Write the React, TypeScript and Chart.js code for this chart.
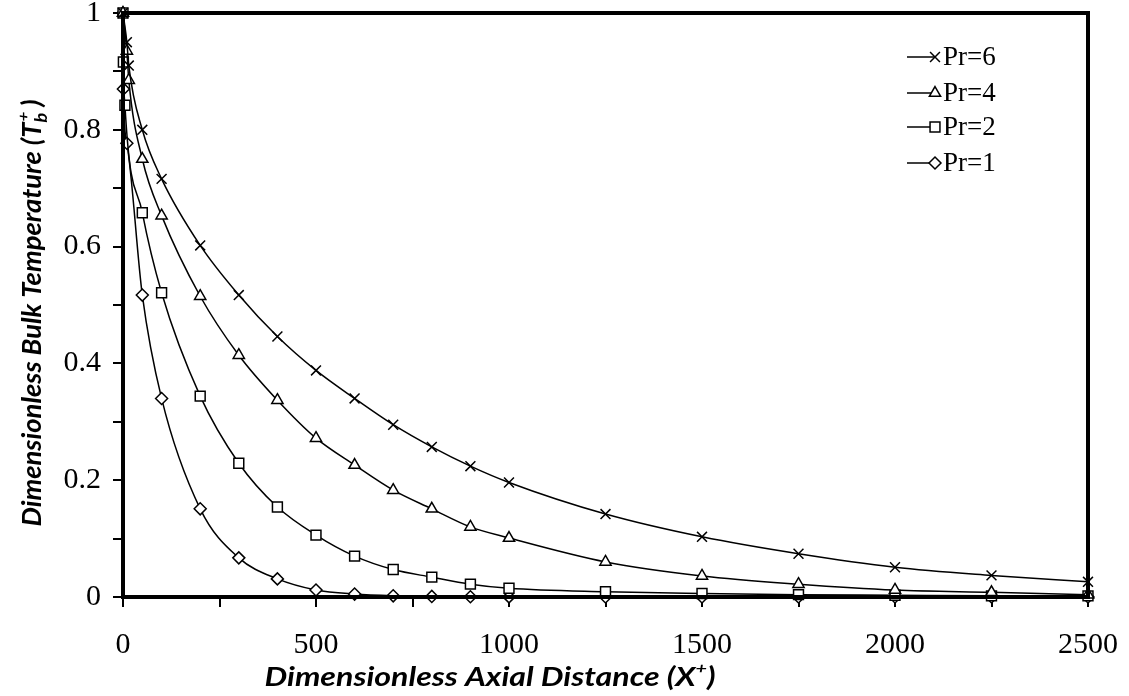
import React, { useEffect, useRef } from 'react';
import { Chart, registerables } from 'chart.js';

Chart.register(...registerables);

// ---- Data ----
const seriesLabels = ['Pr=6', 'Pr=4', 'Pr=2', 'Pr=1'];

const xPr6 = [0, 10, 15, 50, 100, 200, 300, 400, 500, 600, 700, 800, 900, 1000, 1250, 1500, 1750, 2000, 2250, 2500];
const yPr6 = [1, 0.95, 0.91, 0.8, 0.716, 0.602, 0.517, 0.446, 0.388, 0.34, 0.295, 0.257, 0.224, 0.196, 0.142, 0.103, 0.074, 0.051, 0.037, 0.026];

const xPr4 = [0, 10, 15, 50, 100, 200, 300, 400, 500, 600, 700, 800, 900, 1000, 1250, 1500, 1750, 2000, 2250, 2500];
const yPr4 = [1, 0.935, 0.885, 0.75, 0.653, 0.515, 0.414, 0.337, 0.272, 0.226, 0.183, 0.151, 0.12, 0.101, 0.06, 0.036, 0.022, 0.012, 0.008, 0.004];

const xPr2 = [0, 1, 5, 50, 100, 200, 300, 400, 500, 600, 700, 800, 900, 1000, 1250, 1500, 1750, 2000, 2250, 2500];
const yPr2 = [1, 0.916, 0.842, 0.658, 0.521, 0.344, 0.229, 0.154, 0.106, 0.07, 0.047, 0.034, 0.022, 0.015, 0.009, 0.006, 0.004, 0.003, 0.002, 0.002];

const xPr1 = [0, 1, 10, 50, 100, 200, 300, 400, 500, 600, 700, 800, 900, 1000, 1250, 1500, 1750, 2000, 2250, 2500];
const yPr1 = [1, 0.87, 0.777, 0.517, 0.34, 0.151, 0.067, 0.031, 0.012, 0.005, 0.002, 0.001, 0.0005, 0.0002, 0, 0, 0, 0, 0, 0];

const xLabeledTicks = [0, 500, 1000, 1500, 2000, 2500];
const yLabeledTicks = [0, 0.2, 0.4, 0.6, 0.8, 1];

const pointStyles = ['crossRot', 'triangle', 'rect', 'rectRot'];
const pointRadii = [7, 6.5, 7, 6];

const TICK_FONT = { family: 'Liberation Serif', size: 30 };
const TITLE_FAMILY = 'Lato';

type Part = { t: string; size: number; dy: number; stack?: boolean };

function partsWidth(ctx: CanvasRenderingContext2D, parts: Part[]) {
  let w = 0;
  for (let i = 0; i < parts.length; i++) {
    const p = parts[i];
    ctx.font = `italic bold ${p.size}px ${TITLE_FAMILY}`;
    const pw = ctx.measureText(p.t).width;
    if (p.stack && i + 1 < parts.length) {
      const q = parts[i + 1];
      ctx.font = `italic bold ${q.size}px ${TITLE_FAMILY}`;
      const qw = ctx.measureText(q.t).width;
      w += Math.max(pw, qw);
      i++;
    } else {
      w += pw;
    }
  }
  return w;
}

function drawRich(
  ctx: CanvasRenderingContext2D,
  parts: Part[],
  cx: number,
  baseY: number,
  targetWidth: number,
  rotate: boolean
) {
  ctx.save();
  const total = partsWidth(ctx, parts);
  ctx.translate(cx, baseY);
  if (rotate) ctx.rotate(-Math.PI / 2);
  ctx.scale(targetWidth / total, 1);
  ctx.fillStyle = '#000';
  ctx.textBaseline = 'alphabetic';
  ctx.textAlign = 'left';
  let x = -total / 2;
  for (let i = 0; i < parts.length; i++) {
    const p = parts[i];
    ctx.font = `italic bold ${p.size}px ${TITLE_FAMILY}`;
    ctx.fillText(p.t, x, p.dy);
    const pw = ctx.measureText(p.t).width;
    if (p.stack && i + 1 < parts.length) {
      const q = parts[i + 1];
      ctx.font = `italic bold ${q.size}px ${TITLE_FAMILY}`;
      ctx.fillText(q.t, x + 1, q.dy);
      const qw = ctx.measureText(q.t).width;
      x += Math.max(pw, qw);
      i++;
    } else {
      x += pw;
    }
  }
  ctx.restore();
}

function drawMarker(ctx: CanvasRenderingContext2D, style: string, x: number, y: number, r: number) {
  ctx.beginPath();
  if (style === 'crossRot') {
    const o = Math.SQRT1_2 * r;
    ctx.moveTo(x - o, y - o);
    ctx.lineTo(x + o, y + o);
    ctx.moveTo(x - o, y + o);
    ctx.lineTo(x + o, y - o);
    ctx.stroke();
    return;
  }
  if (style === 'triangle') {
    const h = r * 1.5;
    const half = (Math.sqrt(3) / 2) * r;
    ctx.moveTo(x, y - r);
    ctx.lineTo(x + half, y - r + h);
    ctx.lineTo(x - half, y - r + h);
    ctx.closePath();
  } else if (style === 'rect') {
    const s = Math.SQRT1_2 * r;
    ctx.rect(x - s, y - s, 2 * s, 2 * s);
  } else {
    ctx.moveTo(x - r, y);
    ctx.lineTo(x, y - r);
    ctx.lineTo(x + r, y);
    ctx.lineTo(x, y + r);
    ctx.closePath();
  }
  ctx.fillStyle = '#fff';
  ctx.fill();
  ctx.stroke();
}

const decorPlugin = {
  id: 'decor',
  afterDraw(chart: any) {
    const ctx: CanvasRenderingContext2D = chart.ctx;
    const a = chart.chartArea;
    ctx.save();
    // frame
    ctx.strokeStyle = '#000';
    ctx.lineWidth = 4;
    ctx.strokeRect(a.left, a.top, a.right - a.left, a.bottom - a.top);

    // legend
    const rows = [57, 93, 127, 163];
    ctx.lineWidth = 1.5;
    seriesLabels.forEach((lab, i) => {
      const y = rows[i];
      ctx.strokeStyle = '#000';
      ctx.beginPath();
      ctx.moveTo(907, y);
      ctx.lineTo(935, y);
      ctx.stroke();
      drawMarker(ctx, pointStyles[i], 935, y, pointRadii[i]);
      ctx.fillStyle = '#000';
      ctx.font = `27px ${TICK_FONT.family}`;
      ctx.textBaseline = 'middle';
      ctx.textAlign = 'left';
      ctx.fillText(lab, 943, y + 1);
    });

    // axis titles
    drawRich(
      ctx,
      [
        { t: 'Dimensionless Axial Distance (X', size: 26, dy: 0 },
        { t: '+', size: 16, dy: -12 },
        { t: ')', size: 26, dy: 0 },
      ],
      490,
      686,
      451,
      false
    );
    drawRich(
      ctx,
      [
        { t: 'Dimensionless Bulk Temperature (T', size: 26, dy: 0 },
        { t: 'b', size: 17, dy: 6, stack: true },
        { t: '+', size: 16, dy: -12 },
        { t: ' )', size: 26, dy: 0 },
      ],
      41,
      313,
      427,
      true
    );
    ctx.restore();
  },
};

export default function App() {
  const ref = useRef<HTMLCanvasElement>(null);

  useEffect(() => {
    const canvas = ref.current;
    if (!canvas) return;
    const xs = [xPr6, xPr4, xPr2, xPr1];
    const ys = [yPr6, yPr4, yPr2, yPr1];
    const datasets = seriesLabels.map((label, i) => ({
      label,
      data: xs[i].map((x, j) => ({ x, y: ys[i][j] })),
      borderColor: '#000',
      borderWidth: 1.5,
      backgroundColor: '#fff',
      pointStyle: pointStyles[i] as any,
      pointRadius: pointRadii[i],
      pointBorderWidth: 1.5,
      pointBorderColor: '#000',
      pointBackgroundColor: '#fff',
      cubicInterpolationMode: 'monotone' as const,
      fill: false,
      clip: false as any,
    }));

    const isLabeled = (list: number[], v: number) => list.find((t) => Math.abs(t - v) < 1e-6);

    const chart = new Chart(canvas, {
      type: 'line',
      data: { datasets: datasets as any },
      options: {
        responsive: false,
        animation: false,
        devicePixelRatio: 1,
        layout: { padding: { left: 0, top: 13, right: 41, bottom: 0 } },
        plugins: { legend: { display: false }, tooltip: { enabled: false } },
        scales: {
          x: {
            type: 'linear',
            min: 0,
            max: 2500,
            afterFit: (s: any) => {
              s.height = 99;
              s.paddingLeft = 0;
              s.paddingRight = 0;
            },
            grid: {
              display: true,
              drawOnChartArea: false,
              drawTicks: true,
              tickLength: 10,
              color: '#000',
              lineWidth: 2,
            },
            border: { display: true, color: '#000', width: 4 },
            ticks: {
              stepSize: 250,
              autoSkip: false,
              maxRotation: 0,
              color: '#000',
              font: TICK_FONT,
              padding: 20,
              callback: (v: any) => {
                const t = isLabeled(xLabeledTicks, Number(v));
                return t === undefined ? '' : String(t);
              },
            },
          },
          y: {
            type: 'linear',
            min: 0,
            max: 1,
            afterFit: (s: any) => {
              s.width = 123;
              s.paddingTop = 0;
              s.paddingBottom = 0;
            },
            grid: {
              display: true,
              drawOnChartArea: false,
              drawTicks: true,
              tickLength: 10,
              color: '#000',
              lineWidth: 2,
            },
            border: { display: true, color: '#000', width: 4 },
            ticks: {
              stepSize: 0.1,
              autoSkip: false,
              color: '#000',
              font: TICK_FONT,
              padding: 12,
              callback: (v: any) => {
                const t = isLabeled(yLabeledTicks, Number(v));
                return t === undefined ? '' : String(t);
              },
            },
          },
        },
      },
      plugins: [decorPlugin],
    });
    return () => chart.destroy();
  }, []);

  return (
    <canvas
      ref={ref}
      width={1129}
      height={696}
      style={{ position: 'fixed', left: 0, top: 0, width: 1129, height: 696, display: 'block', background: '#fff' }}
    />
  );
}
